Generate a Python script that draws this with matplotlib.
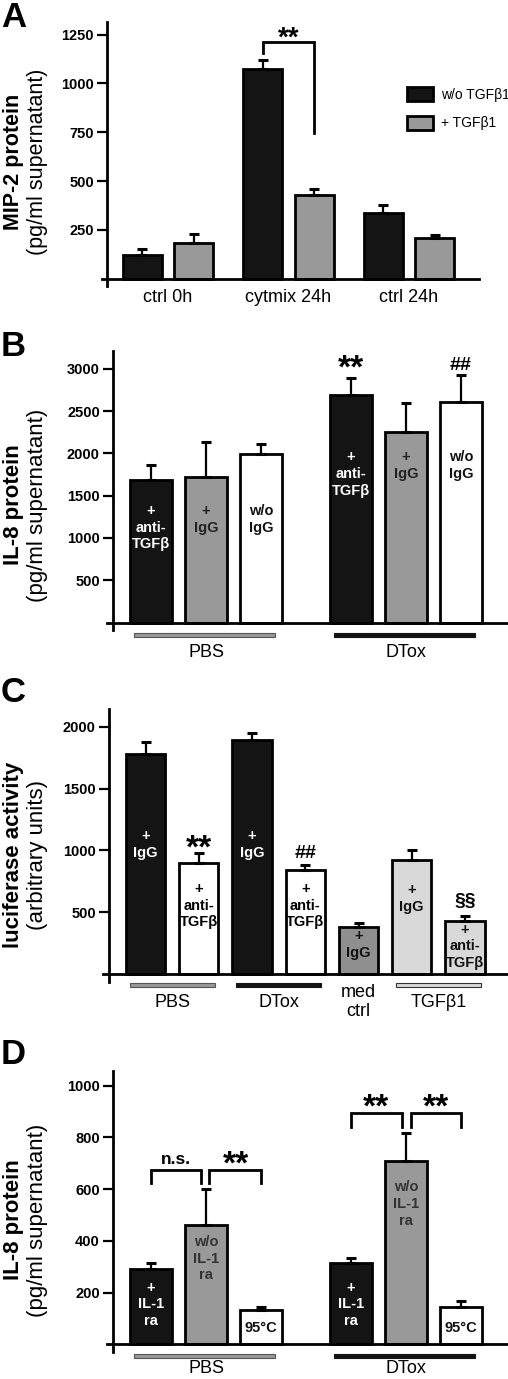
import numpy as np
import matplotlib
matplotlib.use('Agg')
import matplotlib.pyplot as plt
from matplotlib.patches import Rectangle

plt.rcParams['font.family'] = ['Liberation Sans', 'DejaVu Sans']

# ---------------- data ----------------
# Panel A
a_categories = ['ctrl 0h', 'cytmix 24h', 'ctrl 24h']
a_series = ['w/o TGFβ1', '+ TGFβ1']
a_without = [123, 1074, 338]
a_without_err = [29, 45, 40]
a_with = [183, 429, 207]
a_with_err = [45, 31, 16]
a_yticks = [250, 500, 750, 1000, 1250]

# Panel B
b_groups = ['PBS', 'DTox']
b_bar_labels = ['+\nanti-\nTGFβ', '+\nIgG', 'w/o\nIgG']
b_pbs = [1688, 1720, 1992]
b_pbs_err = [177, 417, 118]
b_dtox = [2685, 2252, 2610]
b_dtox_err = [201, 342, 315]
b_dtox_sig = ['**', '', '##']
b_yticks = [500, 1000, 1500, 2000, 2500, 3000]

# Panel C
c_bar_labels = ['+\nIgG', '+\nanti-\nTGFβ', '+\nIgG', '+\nanti-\nTGFβ',
                '+\nIgG', '+\nIgG', '+\nanti-\nTGFβ']
c_values = [1779, 898, 1889, 842, 381, 925, 432]
c_err = [94, 81, 62, 40, 30, 76, 41]
c_sig = ['', '**', '', '##', '', '', '§§']
c_groups = ['PBS', 'DTox', 'med\nctrl', 'TGFβ1']
c_yticks = [500, 1000, 1500, 2000]

# Panel D
d_groups = ['PBS', 'DTox']
d_bar_labels = ['+\nIL-1\nra', 'w/o\nIL-1\nra', '95°C']
d_pbs = [293, 461, 133]
d_pbs_err = [23, 139, 13]
d_dtox = [313, 710, 143]
d_dtox_err = [22, 106, 25]
d_sig = ['n.s.', '**', '**', '**']
d_yticks = [200, 400, 600, 800, 1000]

# ---------------- style ----------------
BLACK = '#141414'
GREY = '#999999'
DGREY = '#8f8f8f'
LGREY = '#d9d9d9'
W, H = 508, 1379
fig = plt.figure(figsize=(W / 100, H / 100), dpi=100)
fig.patch.set_facecolor('white')

EDGE_LW = 2.0
ERR_KW = dict(fmt='none', ecolor='black', elinewidth=1.6, capsize=3.3,
              capthick=2.2, zorder=3)
INBAR_FS = 10.5
CAT_FS = 13


def add_axes(left, right, top, bottom):
    return fig.add_axes([left / W, 1 - bottom / H, (right - left) / W,
                         (bottom - top) / H])


def style(ax, xlim, ylim, xspine, yticks):
    ax.set_xlim(*xlim)
    ax.set_ylim(*ylim)
    for s in ['top', 'right']:
        ax.spines[s].set_visible(False)
    ax.spines['left'].set_position(('data', xspine))
    ax.spines['bottom'].set_position(('data', 0))
    ax.spines['left'].set_linewidth(2.0)
    ax.spines['bottom'].set_linewidth(2.0)
    ax.set_yticks(yticks)
    ax.tick_params(axis='y', length=7, width=1.6, pad=2.5, labelsize=10.5)
    for lab in ax.get_yticklabels():
        lab.set_fontweight('bold')
    ax.set_xticks([])
    ax.patch.set_visible(False)


def ylabel(y, bold_text, reg_text, fs):
    fig.text(14 / W, 1 - y / H, bold_text, rotation=90, ha='center',
             va='center', fontsize=fs, fontweight='bold')
    fig.text(38 / W, 1 - y / H, reg_text, rotation=90, ha='center',
             va='center', fontsize=fs)


def panel_letter(y, letter):
    fig.text(1 / W, 1 - y / H, letter, ha='left', va='top', fontsize=25,
             fontweight='bold')


def underline(ax, xc, half, y, h, color, edge):
    ax.add_patch(Rectangle((xc - half, y - h / 2), 2 * half, h,
                           facecolor=color, edgecolor=edge, linewidth=0.8,
                           clip_on=False))


def bracket(ax, x0, x1, yh, y0, y1):
    ax.plot([x0, x0, x1, x1], [y0, yh, yh, y1], color='black', lw=2.0,
            solid_joinstyle='miter', clip_on=False, zorder=4)


# ================= Panel A =================
axA = add_axes(102, 479, 22, 286)
unit, origin, gap = 51.5, 168, 120.5 / 51.5
ppu = 0.1953
style(axA, ((102 - origin) / unit, (479 - origin) / unit),
      (-(286 - 278.8) / ppu, (278.8 - 22) / ppu), (107 - origin) / unit,
      a_yticks)
xa = np.arange(len(a_categories)) * gap
bw = 0.75
b1 = axA.bar(xa - 0.5, a_without, bw, color=BLACK, edgecolor='black',
             linewidth=EDGE_LW, zorder=2)
b2 = axA.bar(xa + 0.5, a_with, bw, color=GREY, edgecolor='black',
             linewidth=EDGE_LW, zorder=2)
axA.errorbar(xa - 0.5, a_without, yerr=[np.zeros(3), a_without_err], **ERR_KW)
axA.errorbar(xa + 0.5, a_with, yerr=[np.zeros(3), a_with_err], **ERR_KW)
for x, c in zip(xa, a_categories):
    axA.text(x, -98, c, ha='center', va='center', fontsize=CAT_FS,
             clip_on=False)
bracket(axA, xa[1] - 0.5, xa[1] + 0.5, 1214, 1156, 746)
axA.text(xa[1], 1193, '**', ha='center', va='baseline', fontsize=20,
         fontweight='bold')
axA.legend([b1, b2], a_series, loc='upper left',
           bbox_to_anchor=(407 / W, 1 - 87 / H), bbox_transform=fig.transFigure,
           frameon=False, fontsize=10, handlelength=1.85, handleheight=1.2,
           handletextpad=0.6, labelspacing=1.0, borderpad=0, borderaxespad=0)
ylabel(162, 'MIP-2 protein', '(pg/ml supernatant)', 15.5)
panel_letter(1, 'A')

# ================= Panel B =================
axB = add_axes(107, 508, 350.7, 630)
unit, origin, gap = 55, 206, 200 / 55
ppu = 0.0846
base = 622.5
style(axB, ((107 - origin) / unit, (508 - origin) / unit),
      (-(630 - base) / ppu, (base - 350.7) / ppu), (113 - origin) / unit,
      b_yticks)
b_colors = [BLACK, GREY, 'white']
b_text_colors = ['white', '#222222', '#111111']
offs = np.array([-1, 0, 1])
bw = 0.75
for g, (vals, errs, ltop) in enumerate([(b_pbs, b_pbs_err, 1401),
                                         (b_dtox, b_dtox_err, 2039)]):
    xs = g * gap + offs
    axB.bar(xs, vals, bw, color=b_colors, edgecolor='black',
            linewidth=EDGE_LW, zorder=2)
    axB.errorbar(xs, vals, yerr=[np.zeros(3), errs], **ERR_KW)
    for x, lab, tc in zip(xs, b_bar_labels, b_text_colors):
        axB.text(x, ltop, lab, ha='center', va='top', fontsize=INBAR_FS,
                 fontweight='bold', color=tc, linespacing=1.25, zorder=5)
    underline(axB, g * gap - 0.03, 1.28, -148, 55,
              [GREY, BLACK][g], ['#555555', BLACK][g])
    axB.text(g * gap, -349, b_groups[g], ha='center', va='center',
             fontsize=CAT_FS, clip_on=False)
xs = gap + offs
for x, v, e, s in zip(xs, b_dtox, b_dtox_err, b_dtox_sig):
    if s == '**':
        axB.text(x, 2895, s, ha='center', va='baseline', fontsize=24,
                 fontweight='bold')
    elif s:
        axB.text(x, 2985, s, ha='center', va='baseline', fontsize=14,
                 fontweight='bold')
ylabel(505, 'IL-8 protein', '(pg/ml supernatant)', 16)
panel_letter(330, 'B')

# ================= Panel C =================
axC = add_axes(103, 508, 709.3, 981.7)
unit, origin = 53.25, 145.5
ppu = 0.1238
base = 974.2
style(axC, ((103 - origin) / unit, (508 - origin) / unit),
      (-(981.7 - base) / ppu, (base - 709.3) / ppu), (109 - origin) / unit,
      c_yticks)
xc = np.arange(len(c_values))
c_colors = [BLACK, 'white', BLACK, 'white', DGREY, LGREY, LGREY]
c_text_colors = ['white', 'black', 'white', 'black', '#111111', '#111111',
                 '#111111']
c_label_top = [1173, 745, 1173, 745, 365, 737, 416]
axC.bar(xc, c_values, 0.74, color=c_colors, edgecolor='black',
        linewidth=EDGE_LW, zorder=2)
axC.errorbar(xc, c_values, yerr=[np.zeros(len(xc)), c_err], **ERR_KW)
for x, lab, tc, yt in zip(xc, c_bar_labels, c_text_colors, c_label_top):
    axC.text(x, yt, lab, ha='center', va='top', fontsize=INBAR_FS,
             fontweight='bold', color=tc, linespacing=1.25, zorder=5)
c_sig_y = {'**': (940, 24), '##': (940, 14), '§§': (553, 14)}
for x, s in zip(xc, c_sig):
    if s:
        yy, fs = c_sig_y[s]
        axC.text(x, yy, s, ha='center', va='baseline', fontsize=fs,
                 fontweight='bold')
c_group_x = [0.5, 2.5, 4, 5.5]
c_group_col = [(GREY, '#555555'), (BLACK, BLACK), None, (LGREY, '#333333')]
for gx, name, col in zip(c_group_x, c_groups, c_group_col):
    if col is not None:
        underline(axC, gx, 0.8, -87, 36, col[0], col[1])
    axC.text(gx, -225, name, ha='center', va='center', fontsize=CAT_FS,
             clip_on=False, linespacing=1.1)
ylabel(855, 'luciferase activity', '(arbitrary units)', 16)
panel_letter(676, 'C')

# ================= Panel D =================
axD = add_axes(107, 508, 1070.7, 1351.7)
unit, origin, gap = 55, 206, 200 / 55
ppu = 0.2588
base = 1344.4
style(axD, ((107 - origin) / unit, (508 - origin) / unit),
      (-(1351.7 - base) / ppu, (base - 1070.7) / ppu), (113 - origin) / unit,
      d_yticks)
d_colors = [BLACK, GREY, 'white']
d_text_colors = ['white', '#333333', '#111111']
for g, (vals, errs, wtop) in enumerate([(d_pbs, d_pbs_err, 423),
                                         (d_dtox, d_dtox_err, 635)]):
    xs = g * gap + offs
    axD.bar(xs, vals, 0.75, color=d_colors, edgecolor='black',
            linewidth=EDGE_LW, zorder=2)
    axD.errorbar(xs, vals, yerr=[np.zeros(3), errs], **ERR_KW)
    tops = [246, wtop, None]
    for x, lab, tc, yt in zip(xs, d_bar_labels, d_text_colors, tops):
        if yt is None:
            axD.text(x, 64, lab, ha='center', va='center', fontsize=INBAR_FS,
                     fontweight='bold', color=tc, zorder=5)
        else:
            axD.text(x, yt, lab, ha='center', va='top', fontsize=INBAR_FS,
                     fontweight='bold', color=tc, linespacing=1.25, zorder=5)
    underline(axD, g * gap - 0.03, 1.28, -45, 18,
              [GREY, BLACK][g], ['#555555', BLACK][g])
    axD.text(g * gap, -94, d_groups[g], ha='center', va='center',
             fontsize=CAT_FS, clip_on=False)
# brackets
bracket(axD, -1.0, -0.09, 674, 624, 624)
bracket(axD, 0.06, 1.0, 674, 624, 624)
bracket(axD, gap - 1.0, gap - 0.07, 893, 839, 839)
bracket(axD, gap + 0.09, gap + 1.0, 893, 839, 839)
axD.text(-0.55, 697, d_sig[0], ha='center', va='baseline', fontsize=12.5,
         fontweight='bold')
axD.text(0.55, 660, d_sig[1], ha='center', va='baseline', fontsize=24,
         fontweight='bold')
axD.text(gap - 0.55, 882, d_sig[2], ha='center', va='baseline', fontsize=24,
         fontweight='bold')
axD.text(gap + 0.55, 882, d_sig[3], ha='center', va='baseline', fontsize=24,
         fontweight='bold')
ylabel(1220, 'IL-8 protein', '(pg/ml supernatant)', 16)
panel_letter(1038, 'D')

fig.savefig('out.png', dpi=100, facecolor='white')
